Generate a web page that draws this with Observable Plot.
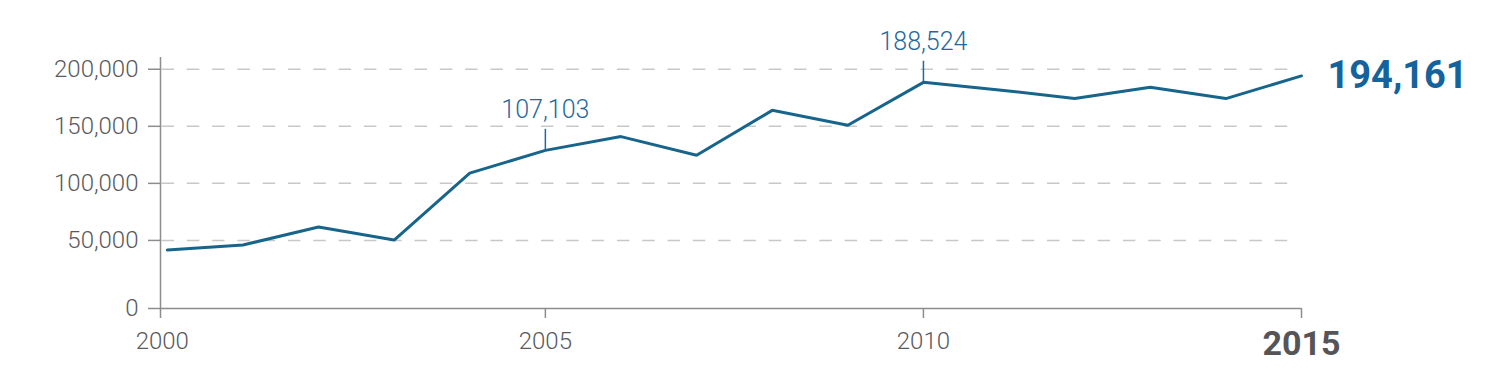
<!DOCTYPE html>
<html><head><meta charset="utf-8">
<script src="https://cdn.jsdelivr.net/npm/d3@7"></script>
<script src="https://cdn.jsdelivr.net/npm/@observablehq/plot@0.6"></script>
<style>html,body{margin:0;padding:0;background:#fff;} #chart{width:1500px;height:381px;}</style>
</head><body><div id="chart"></div>
<script>
// ---- data ----
const years = [2000, 2001, 2002, 2003, 2004, 2005, 2006, 2007, 2008, 2009, 2010, 2011, 2012, 2013, 2014, 2015];
const values = [41600, 46000, 61800, 50300, 109000, 128900, 141000, 124600, 164000, 150900, 188524, 181900, 174300, 184200, 174300, 194161];
const annoYears = [2005, 2010];
const annoLabels = ["107,103", "188,524"];
const lastLabel = "194,161";
const yTicks = [0, 50000, 100000, 150000, 200000];
const xLabelYears = [2005, 2010];
const xFirstYear = [2000];
const xLastYear = [2015];
const xTickYears = [2005, 2010, 2015];

// ---- layout constants ----
const yFloor = -9650;   // baseline (labelled 0) sits a little below linear zero
const yCeil = 210300;
const xStart = 1999.91; // small gap between the y axis and the first point
const leader = 18500;   // annotation leader length in value units

const lineColor = "#18658c";
const annoColor = "#1f69a1";
const bigColor = "#14639c";
const grayText = "#5a5a5c";
const axisGray = "#8d8d8d";

const data = years.map((year, i) => ({year, value: values[i]}));
const anno = annoYears.map((year, i) => ({year, value: values[years.indexOf(year)], label: annoLabels[i]}));
const last = [data[data.length - 1]];
const yAxisTicks = yTicks.map(v => v === 0 ? yFloor : v);
const gridTicks = yTicks.filter(v => v > 0);
const fmt = d3.format(",");

const chart = Plot.plot({
  width: 1500, height: 381,
  marginLeft: 160, marginRight: 199, marginTop: 57, marginBottom: 73,
  x: {domain: [xStart, 2015]},
  y: {domain: [yFloor, yCeil]},
  style: {fontFamily: "Roboto, 'Open Sans', sans-serif", background: "#fff", overflow: "visible"},
  marks: [
    Plot.gridY(gridTicks, {stroke: "#c8c8c8", strokeOpacity: 1, strokeWidth: 1.5, strokeDasharray: "12.5,12.8", insetLeft: 1.5, insetRight: 8}),
    Plot.axisY(yAxisTicks, {tickSize: 12, tickPadding: 10, tickFormat: v => v === yFloor ? "0" : fmt(v), fontSize: 24, fontWeight: 300, fill: grayText, stroke: axisGray, strokeWidth: 1.5, label: null}),
    Plot.ruleX([xStart], {stroke: axisGray, strokeWidth: 1.5, insetBottom: -10}),
    Plot.ruleY([yFloor], {stroke: axisGray, strokeWidth: 1.5}),
    Plot.axisX(xTickYears, {tickSize: 10, tickFormat: () => "", stroke: axisGray, strokeWidth: 1.5, label: null}),
    Plot.axisX(xLabelYears, {tickSize: 0, tickPadding: 23, tickFormat: d => String(d), fontSize: 24, fontWeight: 300, fill: grayText, label: null}),
    Plot.axisX(xFirstYear, {tickSize: 0, tickPadding: 23, dx: -5, tickFormat: d => String(d), fontSize: 24, fontWeight: 300, fill: grayText, label: null}),
    Plot.axisX(xLastYear, {tickSize: 0, tickPadding: 22, tickFormat: d => String(d), fontSize: 34, fontWeight: "bold", fill: "#555557", label: null}),
    Plot.line(data, {x: "year", y: "value", stroke: lineColor, strokeWidth: 3, strokeLinejoin: "miter"}),
    Plot.ruleX(anno, {x: "year", y1: "value", y2: d => d.value + leader, stroke: annoColor, strokeWidth: 1.5}),
    Plot.text(anno, {x: "year", y: d => d.value + leader, text: "label", lineAnchor: "bottom", dy: -11.5, fontSize: 25, fontWeight: 300, fill: annoColor}),
    Plot.text(last, {x: "year", y: "value", text: () => lastLabel, textAnchor: "start", lineAnchor: "middle", dx: 26, fontSize: 38, fontWeight: "bold", fill: bigColor})
  ]
});
document.getElementById("chart").appendChild(chart);
</script>
</body></html>
